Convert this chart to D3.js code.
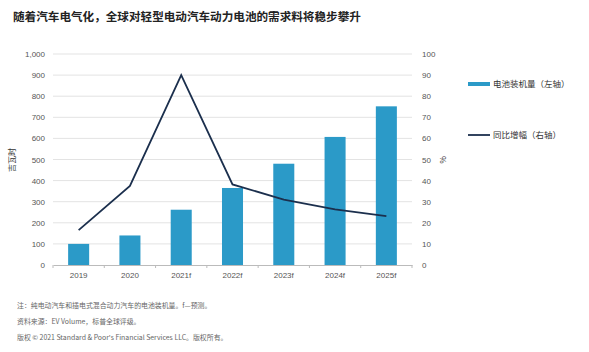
<!DOCTYPE html>
<html><head><meta charset="utf-8">
<script src="https://cdn.jsdelivr.net/npm/d3@7"></script>
<style>body{margin:0;background:#fff;}svg{display:block;font-family:"Noto Sans CJK SC","Liberation Sans",sans-serif;}</style>
</head><body>
<svg id="c" width="589" height="352"></svg>
<script>
const categories = ["2019","2020","2021f","2022f","2023f","2024f","2025f"];
const capacity = [100, 140, 262, 365, 480, 607, 752];
const growth = [16.5, 37.5, 90, 38.2, 31, 26.4, 23.2];
const leftTicks = [0,100,200,300,400,500,600,700,800,900,1000];
const rightTicks = [0,10,20,30,40,50,60,70,80,90,100];
const title = "随着汽车电气化，全球对轻型电动汽车动力电池的需求料将稳步攀升";
const notes = ["注：纯电动汽车和插电式混合动力汽车的电池装机量。f—预测。","资料来源：EV Volume，标普全球评级。","版权 © 2021 Standard & Poor's Financial Services LLC。版权所有。"];
const legendLabels = ["电池装机量（左轴）","同比增幅（右轴）"];

const svg = d3.select("#c");
const L=53, R=412, T=54, B=265;
const x = d3.scaleBand().domain(categories).range([L,R]).paddingInner(0.59).paddingOuter(0.295);
const yL = d3.scaleLinear().domain([0,1000]).range([B,T]);
const yR = d3.scaleLinear().domain([0,100]).range([B,T]);
const barColor="#2b9ac8", lineColor="#1b2f4d", tickColor="#555";

svg.append("text").attr("x",13).attr("y",21).text(title).attr("font-size",11.6).attr("font-weight","bold").attr("fill","#222");

// grid
svg.append("g").selectAll("line").data(leftTicks.slice(1)).join("line")
  .attr("x1",L).attr("x2",R).attr("y1",d=>yL(d)).attr("y2",d=>yL(d)).attr("stroke","#e3e3e3").attr("stroke-width",1);

const gl = svg.append("g").attr("transform",`translate(${L},0)`).call(d3.axisLeft(yL).tickValues(leftTicks).tickSize(0).tickPadding(8).tickFormat(d3.format(",")));
gl.select(".domain").remove();
gl.selectAll("text").attr("font-size",8).attr("fill",tickColor).attr("font-family","Liberation Sans, Arial, sans-serif");

const gr = svg.append("g").attr("transform",`translate(${R},0)`).call(d3.axisRight(yR).tickValues(rightTicks).tickSize(0).tickPadding(10));
gr.select(".domain").remove();
gr.selectAll("text").attr("font-size",8).attr("fill",tickColor).attr("font-family","Liberation Sans, Arial, sans-serif");

svg.append("g").selectAll("rect").data(capacity).join("rect")
  .attr("x",(d,i)=>x(categories[i])).attr("width",x.bandwidth())
  .attr("y",d=>yL(d)).attr("height",d=>B-yL(d)).attr("fill",barColor);

const gx = svg.append("g").attr("transform",`translate(0,${B})`).call(d3.axisBottom(x).tickSize(0).tickPadding(7));
gx.select(".domain").attr("stroke","#bbb");
gx.selectAll("text").attr("font-size",8).attr("fill",tickColor).attr("font-family","Liberation Sans, Arial, sans-serif");
const step = x.step();
gx.append("g").selectAll("line").data(d3.range(categories.length+1)).join("line")
  .attr("x1",i=>L+i*step).attr("x2",i=>L+i*step).attr("y1",0).attr("y2",3).attr("stroke","#bbb");

const line = d3.line().x((d,i)=>x(categories[i])+x.bandwidth()/2).y(d=>yR(d));
svg.append("path").datum(growth).attr("d",line).attr("fill","none").attr("stroke",lineColor).attr("stroke-width",1.8);

svg.append("text").attr("transform","translate(15,160) rotate(-90)").attr("text-anchor","middle").attr("font-size",8).attr("fill","#333").text("吉瓦时");
svg.append("text").attr("transform","translate(440,160) rotate(90)").attr("text-anchor","middle").attr("font-size",8).attr("fill","#333").text("%");

svg.append("rect").attr("x",468).attr("y",82).attr("width",22).attr("height",4).attr("fill",barColor);
svg.append("text").attr("x",493).attr("y",87).attr("font-size",8.5).attr("fill","#333").text(legendLabels[0]);
svg.append("line").attr("x1",468).attr("x2",490).attr("y1",135).attr("y2",135).attr("stroke",lineColor).attr("stroke-width",1.8);
svg.append("text").attr("x",493).attr("y",138).attr("font-size",8.5).attr("fill","#333").text(legendLabels[1]);

svg.append("g").selectAll("text").data(notes).join("text")
  .attr("x",17).attr("y",(d,i)=>308+i*16).attr("font-size",6.9).attr("fill","#666").text(d=>d);
</script>
</body></html>
